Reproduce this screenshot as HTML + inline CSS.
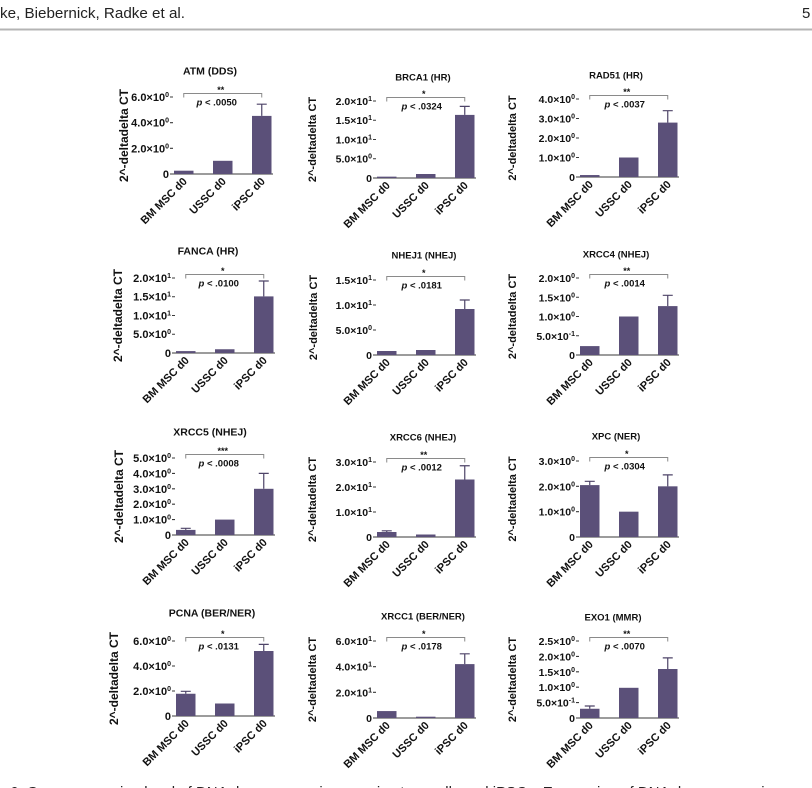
<!DOCTYPE html>
<html><head><meta charset="utf-8"><style>
html,body{margin:0;padding:0;background:#fff;}
body{width:812px;height:788px;overflow:hidden;}
svg{display:block;}
text{font-family:"Liberation Sans",Arial,sans-serif;fill:#111;}
.t{font-weight:bold;font-size:9.5px;text-anchor:middle;}
.c1 .t{font-size:10.5px;}
.yl{font-weight:bold;font-size:11px;text-anchor:middle;dominant-baseline:central;}
.c1 .yl{font-size:12px;}
.tk{font-weight:bold;font-size:10.5px;text-anchor:end;}
.c1 .tk{font-size:11px;}
.xl{font-weight:bold;font-size:11px;text-anchor:end;}
.st{font-weight:bold;font-size:9px;text-anchor:middle;}
.pv{font-weight:bold;font-size:9.5px;text-anchor:middle;}
.bar{fill:#5b5079;}
.ax{stroke:#3a3a3a;stroke-width:1.1;fill:none;}
.br{stroke:#8a8a8a;stroke-width:1;fill:none;}
.er{stroke:#4e4468;stroke-width:1.2;fill:none;}
</style></head><body>
<svg width="812" height="788" viewBox="0 0 812 788" xmlns="http://www.w3.org/2000/svg">
<rect width="812" height="788" fill="#fff"/>
<text x="0" y="18" font-size="15" textLength="185" lengthAdjust="spacingAndGlyphs" style="fill:#222">ke, Biebernick, Radke et al.</text>
<text x="802" y="18" font-size="15" style="fill:#222">5</text>
<rect x="0" y="28.5" width="812" height="2" fill="#b4b4b4"/>

<!-- P1 ATM -->
<g class="c1">
<text class="t" x="210" y="74.7">ATM (DDS)</text>
<text class="yl" transform="translate(124,135.5) rotate(-90)">2^-deltadelta CT</text>
<path class="ax" d="M170 174H273M170 148.33H173M170 122.67H173M170 97H173"/>
<text class="tk" x="169" y="178">0</text>
<text class="tk" x="169" y="152.3">2.0×10<tspan dy="-4" font-size="7">0</tspan></text>
<text class="tk" x="169" y="126.7">4.0×10<tspan dy="-4" font-size="7">0</tspan></text>
<text class="tk" x="169" y="101">6.0×10<tspan dy="-4" font-size="7">0</tspan></text>
<rect class="bar" x="174" y="170.7" width="19.5" height="3.3"/>
<rect class="bar" x="213" y="160.8" width="19.5" height="13.2"/>
<rect class="bar" x="252" y="115.9" width="19.5" height="58.1"/>
<path class="er" d="M261.75 115.9V104.2M256.75 104.2H266.75"/>
<path class="br" d="M183.75 97.5V93.5H261.75V97.5"/>
<text class="st" x="220.75" y="93">**</text>
<text class="pv" x="216.75" y="105.5"><tspan font-style="italic">p</tspan> &lt; .0050</text>
<text class="xl" transform="translate(187.75,182) rotate(-45)">BM MSC d0</text>
<text class="xl" transform="translate(226.75,182) rotate(-45)">USSC d0</text>
<text class="xl" transform="translate(265.75,182) rotate(-45)">iPSC d0</text>
</g>

<!-- P2 BRCA1 -->
<g>
<text class="t" x="423" y="80.5">BRCA1 (HR)</text>
<text class="yl" transform="translate(313,139.5) rotate(-90)">2^-deltadelta CT</text>
<path class="ax" d="M373 178H476M373 158.75H376M373 139.5H376M373 120.25H376M373 101H376"/>
<text class="tk" x="372" y="182">0</text>
<text class="tk" x="372" y="162.7">5.0×10<tspan dy="-4" font-size="7">0</tspan></text>
<text class="tk" x="372" y="143.5">1.0×10<tspan dy="-4" font-size="7">1</tspan></text>
<text class="tk" x="372" y="124.2">1.5×10<tspan dy="-4" font-size="7">1</tspan></text>
<text class="tk" x="372" y="105">2.0×10<tspan dy="-4" font-size="7">1</tspan></text>
<rect class="bar" x="377" y="176.65" width="19.5" height="1.35"/>
<rect class="bar" x="416" y="174" width="19.5" height="4"/>
<rect class="bar" x="455" y="114.9" width="19.5" height="63.1"/>
<path class="er" d="M464.75 114.9V106.4M459.75 106.4H469.75"/>
<path class="br" d="M386.75 101.5V97.5H464.75V101.5"/>
<text class="st" x="423.75" y="97">*</text>
<text class="pv" x="421.75" y="109.5"><tspan font-style="italic">p</tspan> &lt; .0324</text>
<text class="xl" transform="translate(390.75,186) rotate(-45)">BM MSC d0</text>
<text class="xl" transform="translate(429.75,186) rotate(-45)">USSC d0</text>
<text class="xl" transform="translate(468.75,186) rotate(-45)">iPSC d0</text>
</g>

<!-- P3 RAD51 -->
<g>
<text class="t" x="616" y="78.5">RAD51 (HR)</text>
<text class="yl" transform="translate(513,138) rotate(-90)">2^-deltadelta CT</text>
<path class="ax" d="M576 177H679M576 157.5H579M576 138H579M576 118.5H579M576 99H579"/>
<text class="tk" x="575" y="181">0</text>
<text class="tk" x="575" y="161.5">1.0×10<tspan dy="-4" font-size="7">0</tspan></text>
<text class="tk" x="575" y="142">2.0×10<tspan dy="-4" font-size="7">0</tspan></text>
<text class="tk" x="575" y="122.5">3.0×10<tspan dy="-4" font-size="7">0</tspan></text>
<text class="tk" x="575" y="103">4.0×10<tspan dy="-4" font-size="7">0</tspan></text>
<rect class="bar" x="580" y="175.05" width="19.5" height="1.95"/>
<rect class="bar" x="619" y="157.5" width="19.5" height="19.5"/>
<rect class="bar" x="658" y="122.6" width="19.5" height="54.4"/>
<path class="er" d="M667.75 122.6V110.7M662.75 110.7H672.75"/>
<path class="br" d="M589.75 99.5V95.5H667.75V99.5"/>
<text class="st" x="626.75" y="95">**</text>
<text class="pv" x="624.75" y="107.5"><tspan font-style="italic">p</tspan> &lt; .0037</text>
<text class="xl" transform="translate(593.75,185) rotate(-45)">BM MSC d0</text>
<text class="xl" transform="translate(632.75,185) rotate(-45)">USSC d0</text>
<text class="xl" transform="translate(671.75,185) rotate(-45)">iPSC d0</text>
</g>

<!-- P4 FANCA -->
<g class="c1">
<text class="t" x="208" y="254.7">FANCA (HR)</text>
<text class="yl" transform="translate(118,315.5) rotate(-90)">2^-deltadelta CT</text>
<path class="ax" d="M172 353H275M172 334.25H175M172 315.5H175M172 296.75H175M172 278H175"/>
<text class="tk" x="171" y="357">0</text>
<text class="tk" x="171" y="338.2">5.0×10<tspan dy="-4" font-size="7">0</tspan></text>
<text class="tk" x="171" y="319.5">1.0×10<tspan dy="-4" font-size="7">1</tspan></text>
<text class="tk" x="171" y="300.7">1.5×10<tspan dy="-4" font-size="7">1</tspan></text>
<text class="tk" x="171" y="282">2.0×10<tspan dy="-4" font-size="7">1</tspan></text>
<rect class="bar" x="176" y="351.1" width="19.5" height="1.9"/>
<rect class="bar" x="215" y="349.25" width="19.5" height="3.75"/>
<rect class="bar" x="254" y="296.4" width="19.5" height="56.6"/>
<path class="er" d="M263.75 296.4V281M258.75 281H268.75"/>
<path class="br" d="M185.75 278.5V274.5H263.75V278.5"/>
<text class="st" x="222.75" y="274">*</text>
<text class="pv" x="218.75" y="286.5"><tspan font-style="italic">p</tspan> &lt; .0100</text>
<text class="xl" transform="translate(189.75,361) rotate(-45)">BM MSC d0</text>
<text class="xl" transform="translate(228.75,361) rotate(-45)">USSC d0</text>
<text class="xl" transform="translate(267.75,361) rotate(-45)">iPSC d0</text>
</g>

<!-- P5 NHEJ1 -->
<g>
<text class="t" x="424" y="258.5">NHEJ1 (NHEJ)</text>
<text class="yl" transform="translate(314,317.5) rotate(-90)">2^-deltadelta CT</text>
<path class="ax" d="M373 355H476M373 330H376M373 305H376M373 280H376"/>
<text class="tk" x="372" y="359">0</text>
<text class="tk" x="372" y="334">5.0×10<tspan dy="-4" font-size="7">0</tspan></text>
<text class="tk" x="372" y="309">1.0×10<tspan dy="-4" font-size="7">1</tspan></text>
<text class="tk" x="372" y="284">1.5×10<tspan dy="-4" font-size="7">1</tspan></text>
<rect class="bar" x="377" y="351" width="19.5" height="4"/>
<rect class="bar" x="416" y="350" width="19.5" height="5"/>
<rect class="bar" x="455" y="309" width="19.5" height="46"/>
<path class="er" d="M464.75 309V300M459.75 300H469.75"/>
<path class="br" d="M386.75 280.5V276.5H464.75V280.5"/>
<text class="st" x="423.75" y="276">*</text>
<text class="pv" x="421.75" y="288.5"><tspan font-style="italic">p</tspan> &lt; .0181</text>
<text class="xl" transform="translate(390.75,363) rotate(-45)">BM MSC d0</text>
<text class="xl" transform="translate(429.75,363) rotate(-45)">USSC d0</text>
<text class="xl" transform="translate(468.75,363) rotate(-45)">iPSC d0</text>
</g>

<!-- P6 XRCC4 -->
<g>
<text class="t" x="616" y="257.5">XRCC4 (NHEJ)</text>
<text class="yl" transform="translate(513,316.5) rotate(-90)">2^-deltadelta CT</text>
<path class="ax" d="M576 355H679M576 335.75H579M576 316.5H579M576 297.25H579M576 278H579"/>
<text class="tk" x="575" y="359">0</text>
<text class="tk" x="575" y="339.8">5.0×10<tspan dy="-4" font-size="7">-1</tspan></text>
<text class="tk" x="575" y="320.5">1.0×10<tspan dy="-4" font-size="7">0</tspan></text>
<text class="tk" x="575" y="301.3">1.5×10<tspan dy="-4" font-size="7">0</tspan></text>
<text class="tk" x="575" y="282">2.0×10<tspan dy="-4" font-size="7">0</tspan></text>
<rect class="bar" x="580" y="346.1" width="19.5" height="8.9"/>
<rect class="bar" x="619" y="316.5" width="19.5" height="38.5"/>
<rect class="bar" x="658" y="306.1" width="19.5" height="48.9"/>
<path class="er" d="M667.75 306.1V295.3M662.75 295.3H672.75"/>
<path class="br" d="M589.75 278.5V274.5H667.75V278.5"/>
<text class="st" x="626.75" y="274">**</text>
<text class="pv" x="624.75" y="286.5"><tspan font-style="italic">p</tspan> &lt; .0014</text>
<text class="xl" transform="translate(593.75,363) rotate(-45)">BM MSC d0</text>
<text class="xl" transform="translate(632.75,363) rotate(-45)">USSC d0</text>
<text class="xl" transform="translate(671.75,363) rotate(-45)">iPSC d0</text>
</g>

<!-- P7 XRCC5 -->
<g class="c1">
<text class="t" x="210" y="435.7">XRCC5 (NHEJ)</text>
<text class="yl" transform="translate(119,496.5) rotate(-90)">2^-deltadelta CT</text>
<path class="ax" d="M172 535H275M172 519.6H175M172 504.2H175M172 488.8H175M172 473.4H175M172 458H175"/>
<text class="tk" x="171" y="539">0</text>
<text class="tk" x="171" y="523.6">1.0×10<tspan dy="-4" font-size="7">0</tspan></text>
<text class="tk" x="171" y="508.2">2.0×10<tspan dy="-4" font-size="7">0</tspan></text>
<text class="tk" x="171" y="492.8">3.0×10<tspan dy="-4" font-size="7">0</tspan></text>
<text class="tk" x="171" y="477.4">4.0×10<tspan dy="-4" font-size="7">0</tspan></text>
<text class="tk" x="171" y="462">5.0×10<tspan dy="-4" font-size="7">0</tspan></text>
<rect class="bar" x="176" y="529.9" width="19.5" height="5.1"/>
<rect class="bar" x="215" y="519.6" width="19.5" height="15.4"/>
<rect class="bar" x="254" y="488.8" width="19.5" height="46.2"/>
<path class="er" d="M185.75 529.9V528.3M180.75 528.3H190.75M263.75 488.8V473.4M258.75 473.4H268.75"/>
<path class="br" d="M185.75 458.5V454.5H263.75V458.5"/>
<text class="st" x="222.75" y="454">***</text>
<text class="pv" x="218.75" y="466.5"><tspan font-style="italic">p</tspan> &lt; .0008</text>
<text class="xl" transform="translate(189.75,543) rotate(-45)">BM MSC d0</text>
<text class="xl" transform="translate(228.75,543) rotate(-45)">USSC d0</text>
<text class="xl" transform="translate(267.75,543) rotate(-45)">iPSC d0</text>
</g>

<!-- P8 XRCC6 -->
<g>
<text class="t" x="423" y="440.5">XRCC6 (NHEJ)</text>
<text class="yl" transform="translate(313,499.5) rotate(-90)">2^-deltadelta CT</text>
<path class="ax" d="M373 537H476M373 512H376M373 487H376M373 462H376"/>
<text class="tk" x="372" y="541">0</text>
<text class="tk" x="372" y="516">1.0×10<tspan dy="-4" font-size="7">1</tspan></text>
<text class="tk" x="372" y="491">2.0×10<tspan dy="-4" font-size="7">1</tspan></text>
<text class="tk" x="372" y="466">3.0×10<tspan dy="-4" font-size="7">1</tspan></text>
<rect class="bar" x="377" y="532" width="19.5" height="5"/>
<rect class="bar" x="416" y="534.5" width="19.5" height="2.5"/>
<rect class="bar" x="455" y="479.5" width="19.5" height="57.5"/>
<path class="er" d="M386.75 532V530.8M381.75 530.8H391.75M464.75 479.5V465.75M459.75 465.75H469.75"/>
<path class="br" d="M386.75 462.5V458.5H464.75V462.5"/>
<text class="st" x="423.75" y="458">**</text>
<text class="pv" x="421.75" y="470.5"><tspan font-style="italic">p</tspan> &lt; .0012</text>
<text class="xl" transform="translate(390.75,545) rotate(-45)">BM MSC d0</text>
<text class="xl" transform="translate(429.75,545) rotate(-45)">USSC d0</text>
<text class="xl" transform="translate(468.75,545) rotate(-45)">iPSC d0</text>
</g>

<!-- P9 XPC -->
<g>
<text class="t" x="616" y="439.5">XPC (NER)</text>
<text class="yl" transform="translate(513,499) rotate(-90)">2^-deltadelta CT</text>
<path class="ax" d="M576 537H679M576 511.67H579M576 486.33H579M576 461H579"/>
<text class="tk" x="575" y="541">0</text>
<text class="tk" x="575" y="515.7">1.0×10<tspan dy="-4" font-size="7">0</tspan></text>
<text class="tk" x="575" y="490.3">2.0×10<tspan dy="-4" font-size="7">0</tspan></text>
<text class="tk" x="575" y="465">3.0×10<tspan dy="-4" font-size="7">0</tspan></text>
<rect class="bar" x="580" y="485.1" width="19.5" height="51.9"/>
<rect class="bar" x="619" y="511.67" width="19.5" height="25.33"/>
<rect class="bar" x="658" y="486.33" width="19.5" height="50.67"/>
<path class="er" d="M589.75 485.1V481.3M584.75 481.3H594.75M667.75 486.33V474.9M662.75 474.9H672.75"/>
<path class="br" d="M589.75 461.5V457.5H667.75V461.5"/>
<text class="st" x="626.75" y="457">*</text>
<text class="pv" x="624.75" y="469.5"><tspan font-style="italic">p</tspan> &lt; .0304</text>
<text class="xl" transform="translate(593.75,545) rotate(-45)">BM MSC d0</text>
<text class="xl" transform="translate(632.75,545) rotate(-45)">USSC d0</text>
<text class="xl" transform="translate(671.75,545) rotate(-45)">iPSC d0</text>
</g>

<!-- P10 PCNA -->
<g class="c1">
<text class="t" x="212" y="616.7">PCNA (BER/NER)</text>
<text class="yl" transform="translate(114,678.5) rotate(-90)">2^-deltadelta CT</text>
<path class="ax" d="M172 716H275M172 691H175M172 666H175M172 641H175"/>
<text class="tk" x="171" y="720">0</text>
<text class="tk" x="171" y="695">2.0×10<tspan dy="-4" font-size="7">0</tspan></text>
<text class="tk" x="171" y="670">4.0×10<tspan dy="-4" font-size="7">0</tspan></text>
<text class="tk" x="171" y="645">6.0×10<tspan dy="-4" font-size="7">0</tspan></text>
<rect class="bar" x="176" y="693.75" width="19.5" height="22.25"/>
<rect class="bar" x="215" y="703.5" width="19.5" height="12.5"/>
<rect class="bar" x="254" y="651" width="19.5" height="65"/>
<path class="er" d="M185.75 693.75V691.3M180.75 691.3H190.75M263.75 651V644.4M258.75 644.4H268.75"/>
<path class="br" d="M185.75 641.5V637.5H263.75V641.5"/>
<text class="st" x="222.75" y="637">*</text>
<text class="pv" x="218.75" y="649.5"><tspan font-style="italic">p</tspan> &lt; .0131</text>
<text class="xl" transform="translate(189.75,724) rotate(-45)">BM MSC d0</text>
<text class="xl" transform="translate(228.75,724) rotate(-45)">USSC d0</text>
<text class="xl" transform="translate(267.75,724) rotate(-45)">iPSC d0</text>
</g>

<!-- P11 XRCC1 -->
<g>
<text class="t" x="423" y="619.5">XRCC1 (BER/NER)</text>
<text class="yl" transform="translate(313,679.5) rotate(-90)">2^-deltadelta CT</text>
<path class="ax" d="M373 718H476M373 692.33H376M373 666.67H376M373 641H376"/>
<text class="tk" x="372" y="722">0</text>
<text class="tk" x="372" y="696.3">2.0×10<tspan dy="-4" font-size="7">1</tspan></text>
<text class="tk" x="372" y="670.7">4.0×10<tspan dy="-4" font-size="7">1</tspan></text>
<text class="tk" x="372" y="645">6.0×10<tspan dy="-4" font-size="7">1</tspan></text>
<rect class="bar" x="377" y="711.07" width="19.5" height="6.93"/>
<rect class="bar" x="416" y="716.7" width="19.5" height="1.3"/>
<rect class="bar" x="455" y="664.1" width="19.5" height="53.9"/>
<path class="er" d="M464.75 664.1V653.8M459.75 653.8H469.75"/>
<path class="br" d="M386.75 641.5V637.5H464.75V641.5"/>
<text class="st" x="423.75" y="637">*</text>
<text class="pv" x="421.75" y="649.5"><tspan font-style="italic">p</tspan> &lt; .0178</text>
<text class="xl" transform="translate(390.75,726) rotate(-45)">BM MSC d0</text>
<text class="xl" transform="translate(429.75,726) rotate(-45)">USSC d0</text>
<text class="xl" transform="translate(468.75,726) rotate(-45)">iPSC d0</text>
</g>

<!-- P12 EXO1 -->
<g>
<text class="t" x="613" y="620.5">EXO1 (MMR)</text>
<text class="yl" transform="translate(513,679.5) rotate(-90)">2^-deltadelta CT</text>
<path class="ax" d="M576 718H679M576 702.6H579M576 687.2H579M576 671.8H579M576 656.4H579M576 641H579"/>
<text class="tk" x="575" y="722">0</text>
<text class="tk" x="575" y="706.6">5.0×10<tspan dy="-4" font-size="7">-1</tspan></text>
<text class="tk" x="575" y="691.2">1.0×10<tspan dy="-4" font-size="7">0</tspan></text>
<text class="tk" x="575" y="675.8">1.5×10<tspan dy="-4" font-size="7">0</tspan></text>
<text class="tk" x="575" y="660.4">2.0×10<tspan dy="-4" font-size="7">0</tspan></text>
<text class="tk" x="575" y="645">2.5×10<tspan dy="-4" font-size="7">0</tspan></text>
<rect class="bar" x="580" y="708.76" width="19.5" height="9.24"/>
<rect class="bar" x="619" y="687.8" width="19.5" height="30.2"/>
<rect class="bar" x="658" y="669" width="19.5" height="49"/>
<path class="er" d="M589.75 708.76V706M584.75 706H594.75M667.75 669V657.9M662.75 657.9H672.75"/>
<path class="br" d="M589.75 641.5V637.5H667.75V641.5"/>
<text class="st" x="626.75" y="637">**</text>
<text class="pv" x="624.75" y="649.5"><tspan font-style="italic">p</tspan> &lt; .0070</text>
<text class="xl" transform="translate(593.75,726) rotate(-45)">BM MSC d0</text>
<text class="xl" transform="translate(632.75,726) rotate(-45)">USSC d0</text>
<text class="xl" transform="translate(671.75,726) rotate(-45)">iPSC d0</text>
</g>

<text x="10" y="797" font-size="15" style="fill:#222">6. Gene expression level of DNA damage repair genes in stem cells and iPSCs. Expression of DNA damage repair genes in stem cells and</text>
</svg>
</body></html>
